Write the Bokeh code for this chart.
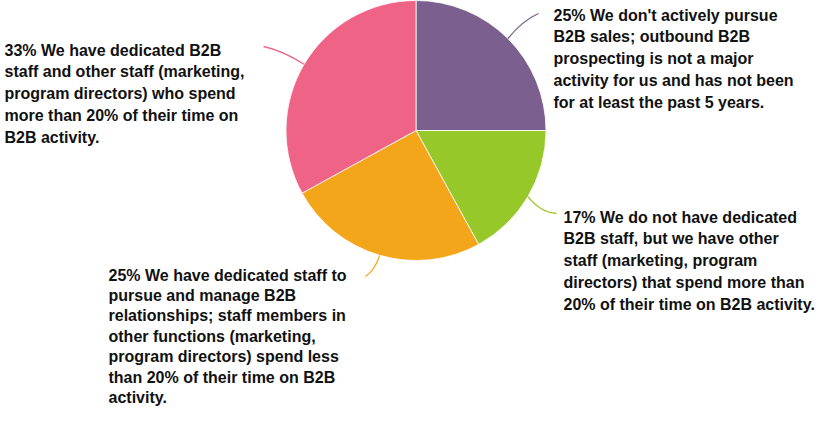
import math
from bokeh.plotting import figure
from bokeh.models import Range1d, ColumnDataSource
from bokeh.core.properties import value
from bokeh.embed import file_html
from bokeh.resources import INLINE

# ---- data ----
values = [25, 17, 25, 33]
descriptions = [
    "We don't actively pursue\nB2B sales; outbound B2B\nprospecting is not a major\nactivity for us and has not been\nfor at least the past 5 years.",
    "We do not have dedicated\nB2B staff, but we have other\nstaff (marketing, program\ndirectors) that spend more than\n20% of their time on B2B activity.",
    "We have dedicated staff to\npursue and manage B2B\nrelationships; staff members in\nother functions (marketing,\nprogram directors) spend less\nthan 20% of their time on B2B\nactivity.",
    "We have dedicated B2B\nstaff and other staff (marketing,\nprogram directors) who spend\nmore than 20% of their time on\nB2B activity.",
]
colors = ["#7B5F8F", "#97C829", "#F4A61B", "#EF6387"]

# ---- layout (screen pixel coordinates; y down) ----
W, H = 818, 411
CX, CY, R = 415.5, 130, 130
label_pos = [(553, 6), (563, 208), (108, 266), (4, 41)]
label_lh = [1.28, 1.28, 1.2, 1.28]
line_ends = [(538, 13), (556, 213), (365, 276), (263, 46)]
line_ctrl = [(522, 20), (540, 212), (374, 270), (282, 50)]

p = figure(width=W, height=H, output_backend="svg", toolbar_location=None,
           x_range=Range1d(0, W), y_range=Range1d(-H, 0),
           min_border=0)
p.axis.visible = False
p.grid.visible = False
p.outline_line_color = None
p.background_fill_color = "white"
p.border_fill_color = "white"

total = sum(values)
starts, ends, mids = [], [], []
a = math.pi / 2
for v in values:
    span = 2 * math.pi * v / total
    starts.append(a)
    ends.append(a - span)
    mids.append(a - span / 2)
    a -= span

src = ColumnDataSource(dict(start=starts, end=ends, color=colors))
p.wedge(x=CX, y=-CY, radius=R, start_angle="start", end_angle="end",
        direction="clock", fill_color="color", line_color="white",
        line_width=0.8, source=src)

# connector curves
for m, c, (ex, ey), (qx, qy) in zip(mids, colors, line_ends, line_ctrl):
    sx = CX + R * math.cos(m)
    sy = CY - R * math.sin(m)
    p.quadratic(x0=[sx], y0=[-sy], x1=[ex], y1=[-ey], cx=[qx], cy=[-qy],
                line_color=c, line_width=1.3)

for v, d, (lx, ly), lh in zip(values, descriptions, label_pos, label_lh):
    p.text(x=[lx], y=[-ly], text=[f"{v}% {d}"],
           text_font=value("Liberation Sans"), text_font_style="bold",
           text_font_size="16px", text_color="#111111", text_baseline="top",
           text_align="left", text_line_height=lh)

open("out.html", "w").write(file_html(p, INLINE))
